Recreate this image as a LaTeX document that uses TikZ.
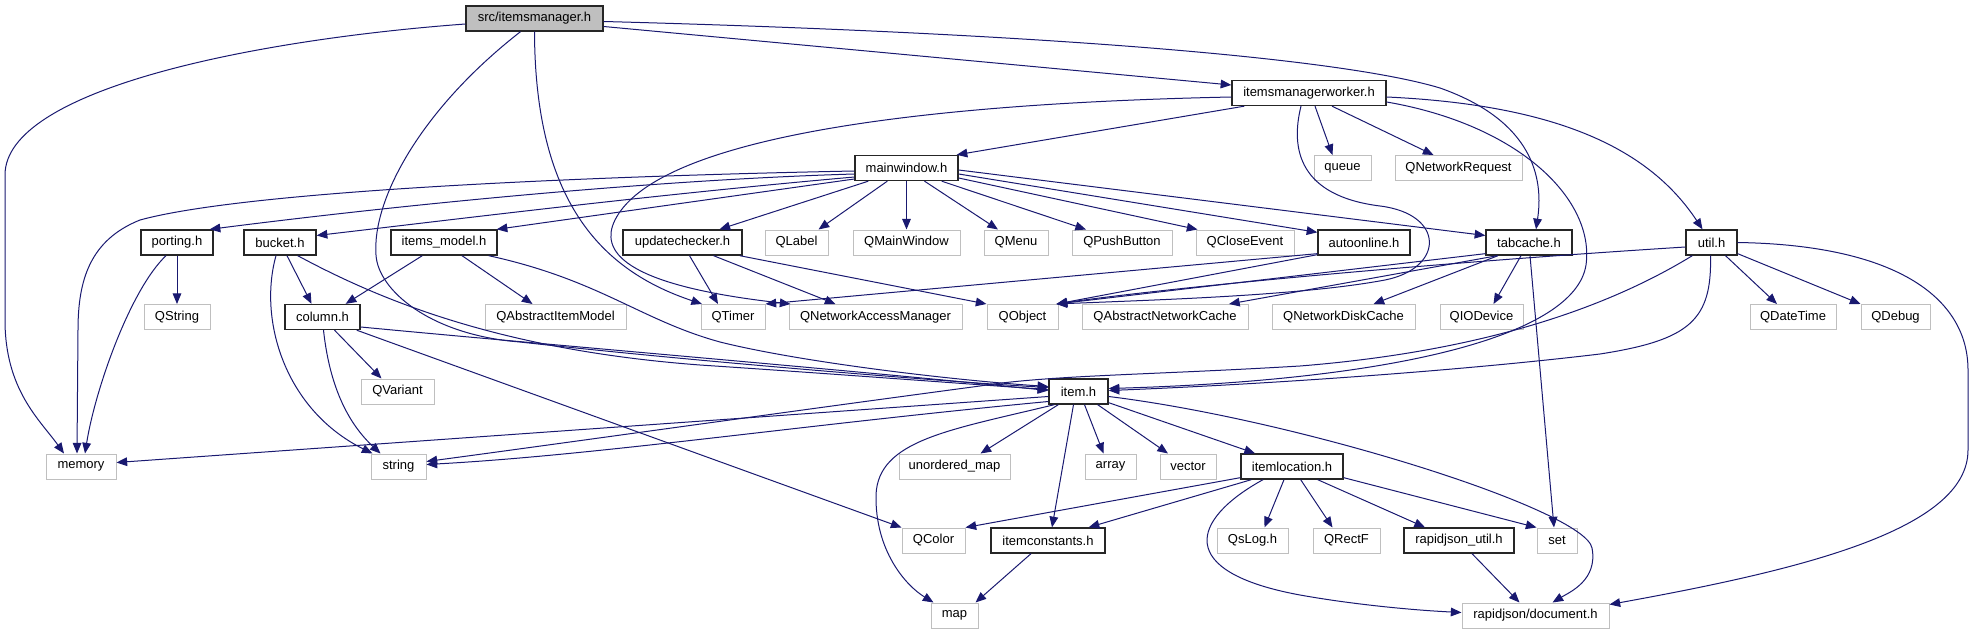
\documentclass[tikz,border=0pt]{standalone}
\usepackage{fontspec}
\setmainfont{Liberation Sans}
\usetikzlibrary{arrows.meta,calc}
\definecolor{edgecol}{HTML}{191970}
\definecolor{greyfs}{HTML}{BFBFBF}
\begin{document}
\begin{tikzpicture}[x=0.75pt,y=-0.75pt,
  every node/.style={font=\fontsize{9.75}{11}\selectfont, inner sep=0pt, minimum height=18.75pt, anchor=center},
  W/.style={minimum width={#1*0.75pt}},
  ext/.style={draw=greyfs, fill=white, line width=0.75pt},
  doc/.style={draw=black!85, fill=white, line width=1pt},
  rootnode/.style={draw=black!85, fill=greyfs, line width=1pt},
  dep/.style={draw=edgecol, line width=0.75pt, -{Triangle[length=8pt,width=6.5pt]}},
]
\useasboundingbox (0,0) rectangle (1974,635);
% row 0-2
\node[rootnode,W=137] (src) at (534.5,18.5) {src/itemsmanager.h};
\node[doc,W=154] (imw) at (1309,93) {itemsmanagerworker.h};
\node[doc,W=103] (mainwin) at (906.5,168) {mainwindow.h};
\node[ext,W=57] (queue) at (1342.5,168) {queue};
\node[ext,W=127] (qnreq) at (1458.5,168) {QNetworkRequest};
% row 3
\node[doc,W=72] (porting) at (177,242.5) {porting.h};
\node[doc,W=72] (bucket) at (280,242.5) {bucket.h};
\node[doc,W=106] (imodel) at (444,242.5) {items\_model.h};
\node[doc,W=119] (updchk) at (682.5,242.5) {updatechecker.h};
\node[ext,W=63] (qlabel) at (796.5,242.5) {QLabel};
\node[ext,W=107] (qmainwindow) at (906.5,242.5) {QMainWindow};
\node[ext,W=64] (qmenu) at (1016,242.5) {QMenu};
\node[ext,W=100] (qpush) at (1122,242.5) {QPushButton};
\node[ext,W=98] (qclose) at (1245,242.5) {QCloseEvent};
\node[doc,W=92] (autoonline) at (1364,242.5) {autoonline.h};
\node[doc,W=86] (tabcache) at (1529,242.5) {tabcache.h};
\node[doc,W=51] (util) at (1711.5,242.5) {util.h};
% row 4
\node[ext,W=66] (qstring) at (177,317) {QString};
\node[doc,W=75] (column) at (322.5,317) {column.h};
\node[ext,W=141] (qaim) at (555.5,317) {QAbstractItemModel};
\node[ext,W=64] (qtimer) at (733,317) {QTimer};
\node[ext,W=173] (qnam) at (875.5,317) {QNetworkAccessManager};
\node[ext,W=71] (qobject) at (1022.5,317) {QObject};
\node[ext,W=166] (qanc) at (1165,317) {QAbstractNetworkCache};
\node[ext,W=143] (qndc) at (1343.5,317) {QNetworkDiskCache};
\node[ext,W=83] (qiodev) at (1481.5,317) {QIODevice};
\node[ext,W=86] (qdatetime) at (1793,317) {QDateTime};
\node[ext,W=69] (qdebug) at (1895.5,317) {QDebug};
% row 5
\node[ext,W=73] (qvariant) at (397.5,391.5) {QVariant};
\node[doc,W=59] (item) at (1078.5,391.5) {item.h};
% row 6
\node[ext,W=70] (memory) at (81,466.5) {memory};
\node[ext,W=55] (string) at (398.5,466.5) {string};
\node[ext,W=111] (umap) at (954.5,466.5) {unordered\_map};
\node[ext,W=51] (array) at (1110.5,466.5) {array};
\node[ext,W=56] (vector) at (1188,466.5) {vector};
\node[doc,W=102] (itemloc) at (1292,466.5) {itemlocation.h};
% row 7
\node[ext,W=63] (qcolor) at (933.5,540.5) {QColor};
\node[doc,W=114] (itemconst) at (1048,540.5) {itemconstants.h};
\node[ext,W=71] (qslog) at (1252.5,540.5) {QsLog.h};
\node[ext,W=67] (qrectf) at (1346.5,540.5) {QRectF};
\node[doc,W=110] (rjutil) at (1459,540.5) {rapidjson\_util.h};
\node[ext,W=40] (set) at (1557,540.5) {set};
% row 8
\node[ext,W=47] (map) at (954.5,615.5) {map};
\node[ext,W=147] (rjdoc) at (1535.5,615.5) {rapidjson/document.h};

% ---- src/itemsmanager.h
\draw[dep] ($(src.west)+(0,5.5)$) .. controls (250,40) and (5,90) .. (5,175) -- (5,320) .. controls (5,390) and (40,420) .. ($(memory.north)+(-17,0)$);
\draw[dep] ($(src.south)+(-14,0)$) .. controls (420,110) and (372,200) .. (376,255) .. controls (378,290) and (430,335) .. (520,342) .. controls (700,362) and (950,382) .. ($(item.west)+(0,-4)$);
\draw[dep] (src.south) .. controls (535,200) and (600,270) .. ($(qtimer.north)+(-31,0)$);
\draw[dep] ($(src.east)+(0,8)$) -- ($(imw.west)+(0,-8)$);
\draw[dep] ($(src.east)+(0,3)$) .. controls (1000,32) and (1330,55) .. (1440,88) .. controls (1525,118) and (1545,170) .. ($(tabcache.north)+(7,0)$);
% ---- itemsmanagerworker.h
\draw[dep] ($(imw.south west)+(13,0)$) -- ($(mainwin.north east)+(-2,0)$);
\draw[dep] ($(imw.west)+(0,4)$) .. controls (850,105) and (650,150) .. (615,220) .. controls (600,250) and (620,285) .. ($(qnam.north west)+(2,0)$);
\draw[dep] ($(imw.south)+(6,0)$) -- ($(queue.north)+(-10,0)$);
\draw[dep] ($(imw.south)+(23,0)$) -- ($(qnreq.north)+(-25,0)$);
\draw[dep] ($(imw.east)+(0,4)$) .. controls (1560,105) and (1650,150) .. ($(util.north)+(-9,0)$);
\draw[dep] ($(imw.east)+(0,9)$) .. controls (1520,125) and (1595,200) .. (1586,265) .. controls (1575,335) and (1400,380) .. ($(item.east)+(0,-3)$);
\draw[dep] ($(imw.south)+(-8,0)$) .. controls (1290,150) and (1300,196) .. (1380,206) .. controls (1445,214) and (1445,268) .. (1385,280) .. controls (1300,296) and (1150,300) .. ($(qobject.north east)+(-2,0)$);
% ---- mainwindow.h
\draw[dep] ($(mainwin.west)+(0,3)$) .. controls (600,176) and (250,190) .. (140,220) .. controls (90,240) and (78,280) .. (78,330) -- ($(memory.north)+(-4,0)$);
\draw[dep] ($(mainwin.west)+(0,6)$) .. controls (650,180) and (400,205) .. ($(porting.north east)+(-4,0)$);
\draw[dep] ($(mainwin.west)+(0,9)$) .. controls (650,195) and (450,220) .. ($(bucket.east)+(0,-7)$);
\draw[dep] ($(mainwin.west)+(0,11)$) -- ($(imodel.north east)+(-1,0)$);
\draw[dep] ($(mainwin.south west)+(14,0)$) -- ($(updchk.north)+(37,0)$);
\draw[dep] ($(mainwin.south west)+(33,0)$) -- ($(qlabel.north)+(22,0)$);
\draw[dep] (mainwin.south) -- (qmainwindow.north);
\draw[dep] ($(mainwin.south)+(18,0)$) -- ($(qmenu.north)+(-18,0)$);
\draw[dep] ($(mainwin.south east)+(-17,0)$) -- ($(qpush.north)+(-36,0)$);
\draw[dep] ($(mainwin.east)+(0,10)$) -- ($(qclose.north west)+(2,0)$);
\draw[dep] ($(mainwin.east)+(0,6)$) -- ($(autoonline.north west)+(0,3)$);
\draw[dep] ($(mainwin.east)+(0,2)$) -- ($(tabcache.west)+(0,-7)$);
% ---- porting.h
\draw[dep] ($(porting.south)+(-11,0)$) .. controls (130,290) and (95,390) .. ($(memory.north)+(4,0)$);
\draw[dep] (porting.south) -- (qstring.north);
% ---- bucket.h
\draw[dep] ($(bucket.south)+(7,0)$) -- ($(column.north)+(-11,0)$);
\draw[dep] ($(bucket.south)+(-4,0)$) .. controls (258,320) and (285,410) .. ($(string.north west)+(2,0)$);
\draw[dep] ($(bucket.south east)+(-19,0)$) .. controls (380,300) and (500,350) .. (700,365) .. controls (850,375) and (980,385) .. ($(item.west)+(0,-2)$);
% ---- items_model.h
\draw[dep] ($(imodel.south west)+(32,0)$) -- ($(column.north east)+(-15,0)$);
\draw[dep] ($(imodel.south)+(18,0)$) -- ($(qaim.north)+(-23,0)$);
\draw[dep] ($(imodel.south east)+(-9,0)$) .. controls (600,280) and (640,320) .. (720,342) .. controls (800,362) and (950,380) .. ($(item.west)+(0,-5)$);
% ---- column.h
\draw[dep] ($(column.south)+(12,0)$) -- ($(qvariant.north)+(-16,0)$);
\draw[dep] ($(column.south)+(1,0)$) .. controls (330,390) and (350,425) .. ($(string.north)+(-18,0)$);
\draw[dep] ($(column.east)+(0,10)$) .. controls (550,345) and (850,370) .. ($(item.west)+(0,-1)$);
\draw[dep] ($(column.south east)+(-4,0)$) -- (qcolor.north west);
% ---- updatechecker.h
\draw[dep] ($(updchk.south)+(7,0)$) -- ($(qtimer.north)+(-15,0)$);
\draw[dep] ($(updchk.south)+(31,0)$) -- ($(qnam.north)+(-40,0)$);
\draw[dep] ($(updchk.south east)+(-3,0)$) -- (qobject.north west);
% ---- autoonline.h
\draw[dep] ($(autoonline.south west)+(0,-2)$) -- (qtimer.north east);
\draw[dep] ($(autoonline.south west)+(0,-1)$) -- ($(qobject.north east)+(-2,0)$);
% ---- tabcache.h
\draw[dep] ($(tabcache.south west)+(0,-2)$) -- ($(qobject.north east)+(-2,0)$);
\draw[dep] ($(tabcache.south west)+(12,0)$) -- ($(qanc.north)+(64,0)$);
\draw[dep] ($(tabcache.south)+(-31,0)$) -- ($(qndc.north)+(30,0)$);
\draw[dep] ($(tabcache.south)+(-8,0)$) -- ($(qiodev.north)+(12,0)$);
\draw[dep] ($(tabcache.south)+(1,0)$) -- ($(set.north)+(-3,0)$);
% ---- util.h
\draw[dep] ($(util.west)+(0,4.5)$) .. controls (1400,265) and (1150,290) .. ($(qobject.north east)+(-2,0)$);
\draw[dep] ($(util.south)+(14,0)$) -- ($(qdatetime.north)+(-16,0)$);
\draw[dep] ($(util.south east)+(0,-2)$) -- (qdebug.north west);
\draw[dep] ($(util.south west)+(7,0)$) .. controls (1620,300) and (1500,350) .. (1300,366) .. controls (1150,375) and (1050,375) .. (980,386) .. controls (800,410) and (550,445) .. ($(string.east)+(0,-5)$);
\draw[dep] ($(util.south)+(-1,0)$) .. controls (1712,320) and (1690,340) .. (1600,354) .. controls (1450,372) and (1250,385) .. ($(item.east)+(0,-1)$);
\draw[dep] (util.east) .. controls (1900,245) and (1968,300) .. (1968,370) -- (1968,450) .. controls (1968,530) and (1800,570) .. ($(rjdoc.north east)+(0,2)$);
% ---- item.h
\draw[dep] ($(item.west)+(0,5)$) -- ($(memory.east)+(0,-4)$);
\draw[dep] ($(item.west)+(0,10)$) .. controls (800,425) and (600,455) .. ($(string.east)+(0,-2)$);
\draw[dep] ($(item.south west)+(6,0)$) .. controls (950,430) and (878,440) .. (876,495) .. controls (875,550) and (905,585) .. ($(map.north west)+(3,0)$);
\draw[dep] ($(item.south west)+(10,0)$) -- ($(umap.north)+(26,0)$);
\draw[dep] ($(item.south)+(-5,0)$) -- ($(itemconst.north)+(4,0)$);
\draw[dep] ($(item.south)+(6,0)$) -- ($(array.north)+(-7,0)$);
\draw[dep] ($(item.south east)+(-11,0)$) -- ($(vector.north)+(-20,0)$);
\draw[dep] ($(item.south east)+(0,-2)$) -- ($(itemloc.north)+(-37,0)$);
\draw[dep] ($(item.east)+(0,5)$) .. controls (1300,420) and (1585,510) .. (1592,548) .. controls (1598,580) and (1570,592) .. ($(rjdoc.north)+(17,0)$);
% ---- itemlocation.h
\draw[dep] ($(itemloc.south west)+(0,-2)$) -- (qcolor.north east);
\draw[dep] ($(itemloc.south west)+(11,0)$) -- ($(itemconst.north east)+(-17,0)$);
\draw[dep] ($(itemloc.south)+(-29,0)$) .. controls (1190,520) and (1175,572) .. (1300,595) .. controls (1350,604) and (1410,610) .. ($(rjdoc.west)+(0,-3)$);
\draw[dep] ($(itemloc.south)+(-8,0)$) -- ($(qslog.north)+(12,0)$);
\draw[dep] ($(itemloc.south east)+(-43,0)$) -- ($(qrectf.north)+(-14,0)$);
\draw[dep] ($(itemloc.south east)+(-26,0)$) -- ($(rjutil.north)+(-34,0)$);
\draw[dep] ($(itemloc.south east)+(0,-2)$) -- (set.north west);
% ---- itemconstants.h, rapidjson_util.h
\draw[dep] ($(itemconst.south)+(-17,0)$) -- ($(map.north east)+(-3,0)$);
\draw[dep] ($(rjutil.south)+(13,0)$) -- ($(rjdoc.north)+(-16,0)$);
\end{tikzpicture}
\end{document}
